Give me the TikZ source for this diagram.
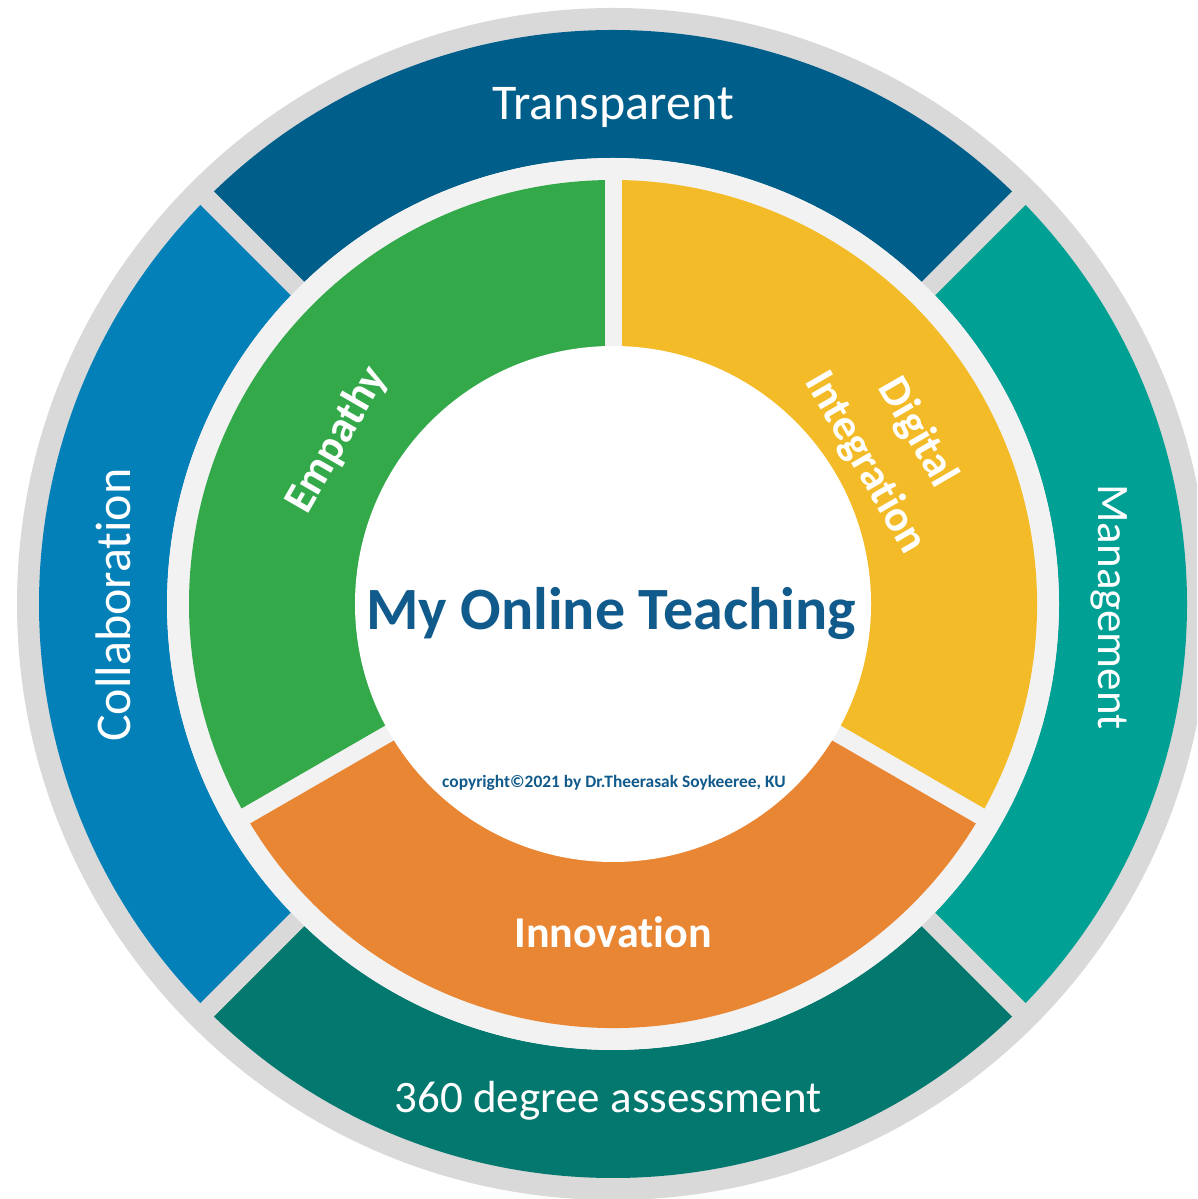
\documentclass[tikz,border=0pt]{standalone}
\usepackage{fontspec}
\setmainfont{Carlito}[Ligatures={NoCommon,NoContextual,NoRare}, RawFeature={-calt}]
\definecolor{ringgray}{HTML}{D9D9D9}
\definecolor{innergray}{HTML}{F2F2F2}
\definecolor{transp}{HTML}{005F8A}
\definecolor{collab}{HTML}{0480B8}
\definecolor{assess}{HTML}{02786E}
\definecolor{manage}{HTML}{00A094}
\definecolor{empathy}{HTML}{33A94A}
\definecolor{digital}{HTML}{F4BB28}
\definecolor{innov}{HTML}{E98634}
\definecolor{titleblue}{HTML}{115A8C}
\tikzset{
  outerlabel/.style={text=white, inner sep=0pt, font=\fontsize{45}{54}\selectfont},
  innerlabel/.style={text=white, inner sep=0pt, font=\bfseries\fontsize{44}{60}\selectfont},
}
\begin{document}
\begin{tikzpicture}[x=1pt,y=1pt]
\useasboundingbox (0,0) rectangle (1197,1199);
\clip (0,0) rectangle (1197,1199);
\coordinate (c) at (613,595);
% outer gray disc
\fill[ringgray] (c) circle[radius=596];
% outer band segments
\foreach \a/\col in {45/transp,135/collab,225/assess,-45/manage}{
  \fill[\col] ([shift={(\a:574)}]c) arc[start angle=\a, end angle=\a+90, radius=574]
     -- ([shift={(\a+90:446)}]c) arc[start angle=\a+90, end angle=\a, radius=446] -- cycle;
}
\foreach \a in {45,135,225,315}{
  \draw[ringgray, line width=19pt] ([shift={(\a:430)}]c) -- ([shift={(\a:590)}]c);
}
% inner light ring
\fill[innergray] (c) circle[radius=446];
% inner band segments
\foreach \a/\col in {90/empathy,210/innov,330/digital}{
  \fill[\col] ([shift={(\a:424)}]c) arc[start angle=\a, end angle=\a+120, radius=424]
     -- ([shift={(\a+120:250)}]c) arc[start angle=\a+120, end angle=\a, radius=250] -- cycle;
}
\foreach \a in {90,210,330}{
  \draw[innergray, line width=17pt] ([shift={(\a:240)}]c) -- ([shift={(\a:436)}]c);
}
% white centre
\fill[white] (c) circle[radius=258];
% outer labels
\node[outerlabel, anchor=base, font=\fontsize{50}{60}\selectfont] (transparent) at (613,1079) {Transparent};
\node[outerlabel, anchor=base] (assessment) at (608,86) {360 degree assessment};
\node[outerlabel, anchor=base, rotate=90, font=\fontsize{50}{60}\selectfont] (collaboration) at (130,594) {Collaboration};
\node[outerlabel, anchor=base, rotate=-90] (management) at (1098,592) {Management};
% inner labels
\node[innerlabel, rotate=60] (empathylbl) at (337,759) {Empathy};
\node[innerlabel, rotate=-60, align=center] (digitallbl) at (891,751) {Digital\\Integration};
\node[innerlabel, anchor=base] (innovlbl) at (613,251) {Innovation};
% centre
\node[text=titleblue, inner sep=0pt, anchor=base, font=\bfseries\fontsize{60}{70}\selectfont] (title) at (611,569) {My Online Teaching};
\node[text=titleblue, inner sep=0pt, anchor=base, font=\bfseries\fontsize{17.4}{20}\selectfont] (copyright) at (614,411) {copyright©2021 by Dr.Theerasak Soykeeree, KU};
\end{tikzpicture}
\end{document}
